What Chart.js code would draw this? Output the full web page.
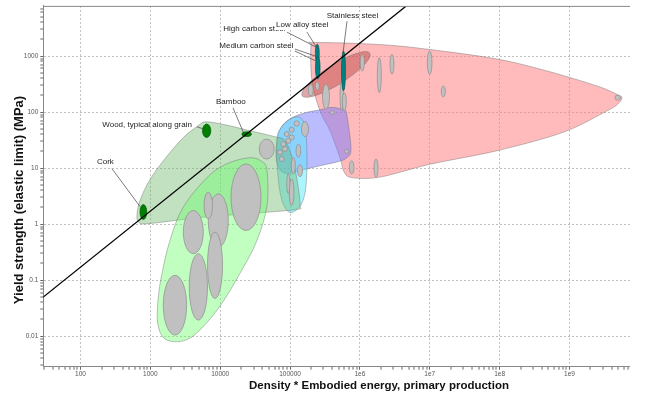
<!DOCTYPE html>
<html><head><meta charset="utf-8">
<script src="https://cdn.jsdelivr.net/npm/chart.js@4.4.0/dist/chart.umd.min.js"></script>
<style>html,body{margin:0;padding:0;background:#fff;}</style>
</head><body>
<canvas id="c" width="656" height="395" style="width:656px;height:395px;display:block"></canvas>
<script>
// ---------- axes ----------
const xRange = [29.34, 7.36e9];
const yRange = [0.002842, 7852];
const xTickValues = [100, 1e3, 1e4, 1e5, 1e6, 1e7, 1e8, 1e9];
const xTickLabels = ['100', '1000', '10000', '100000', '1e6', '1e7', '1e8', '1e9'];
const yTickValues = [0.01, 0.1, 1, 10, 100, 1000];
const yTickLabels = ['0.01', '0.1', '1', '10', '100', '1000'];
const xTitle = 'Density * Embodied energy, primary production';
const yTitle = 'Yield strength (elastic limit) (MPa)';

// ---------- guide line ----------
const guideLineX = [10, 1e7];
const guideLineY = [0.017, 17000];

// ---------- envelopes [x, y] ----------
const metalsEnvelope = [[1.995e5,1507],[2.276e5,1739],[1.94e6,1602],[1.008e7,1305],[9.18e7,884],[4.77e8,541],[2.48e9,292],[4.96e9,202],[5.65e9,179],[4.96e9,140],[3.45e9,105],[8.09e8,43.5],[9.18e7,20.4],[1.008e7,11.7],[1.94e6,6.89],[7.71e5,6.75],[5.92e5,8.63],[5.19e5,15.3],[3.73e5,46.3],[2.68e5,105],[2.06e5,359]];
const steelsEnvelope = [[1.386e6,1126],[1.306e6,842],[9.24e5,539],[5.42e5,331],[3.03e5,224],[1.892e5,185],[1.492e5,195],[1.585e5,261],[2.239e5,408],[3.82e5,661],[6.82e5,980],[1.093e6,1188]];
const compositesEnvelope = [[6.51e4,30.7],[7.42e4,52.4],[9.98e4,75.7],[1.637e5,96.8],[2.68e5,109.4],[3.86e5,121.2],[5.92e5,109.4],[6.54e5,85.6],[7.46e5,22.1],[6.54e5,15.3],[4.86e5,13.0],[2.68e5,11.0],[1.388e5,8.99],[9.04e4,7.95],[6.95e4,9.76],[6.29e4,16.6]];
const ceramicsEnvelope = [[6.51e4,34.7],[7.42e4,52.4],[9.66e4,72.6],[1.257e5,82.1],[1.532e5,69.7],[1.692e5,42.6],[1.748e5,13.5],[1.692e5,4.86],[1.532e5,2.63],[1.3e5,1.895],[9.98e4,1.608],[7.93e4,2.326],[6.95e4,4.86],[6.51e4,13.5]];
const naturalEnvelope = [[688,1.068],[644,1.482],[720,2.75],[1000,6.4],[1700,15.8],[3000,35.5],[4810,56.8],[6260,66.9],[11710,59.2],[26700,46.3],[60900,36.2],[84700,30.7],[110200,13.5],[130000,4.86],[138800,2.14],[121700,1.819],[26700,1.544],[5140,1.31],[989,1.025]];
const foamsEnvelope = [[26700,15.3],[39700,13.0],[46800,8.99],[46800,2.14],[33600,0.511],[19200,0.1321],[9000,0.029],[3690,0.00921],[1731,0.00849],[1287,0.01569],[1287,0.0437],[1469,0.1321],[1911,0.511],[2934,1.974],[6470,6.75],[12520,11.97]];

// ---------- material bubbles [xmin, xmax, ymin, ymax] ----------
const metalBubbles = [[1.013e6,1.156e6,541,1072],[1.774e6,2.024e6,222,933],[2.698e6,3.076e6,472,1072],[9.23e6,1.077e7,472,1227],[1.463e7,1.671e7,186,292],[4.49e9,5.37e9,162,202],[2.915e5,3.672e5,112.6,314],[1.82e5,2.145e5,194,314],[2.30e5,2.62e5,248,344],[5.19e5,5.80e5,105,359],[5.6e5,6.39e5,105,222],[7.05e5,8.23e5,7.85,13.5],[1.592e6,1.816e6,6.83,14.5],[3.77e5,4.30e5,90.3,106.3],[6.06e5,6.91e5,18.3,21.5]];
const foamBubbles = [[1.428e4,3.84e4,0.769,11.83],[6.75e3,1.306e4,0.388,3.46],[5.86e3,7.78e3,1.243,3.69],[2.963e3,5.73e3,0.296,1.746],[6.58e3,1.079e4,0.0469,0.718],[3.60e3,6.58e3,0.01926,0.296],[1.532e3,3.31e3,0.01042,0.1217]];
const ceramicBubbles = [[3.62e4,5.93e4,14.5,32.9],[1.458e5,1.837e5,36.5,67.5],[1.139e5,1.36e5,55.9,69.7],[8.25e4,9.72e4,36.5,44.8],[9.72e4,1.147e5,31.8,39.0],[8.69e4,1.025e5,27.7,34.0],[7.37e4,8.69e4,24.2,29.7],[7.80e4,9.19e4,19.7,24.2],[6.61e4,7.80e4,17.2,21.1],[7.0e4,8.25e4,13.1,16.1],[1.217e5,1.421e5,15.6,26.6],[1.042e5,1.189e5,7.85,15.5],[1.279e5,1.508e5,7.03,11.5],[9.75e4,1.139e5,2.14,6.40],[8.98e4,9.92e4,3.50,7.95],[9.72e4,1.147e5,43.5,53.4]];
const steelBubbles = [[2.30e5,2.62e5,750,1635],[2.31e5,2.69e5,390,1000],[5.45e5,6.22e5,238,1227]];
const naturalBubbles = [[711,887,1.208,2.23],[5.58e3,7.33e3,35.2,60.9],[2.05e4,2.79e4,36.6,44.4]];

// ---------- labels ----------
const labelTexts = ['Cork', 'Wood, typical along grain', 'Bamboo', 'High carbon steel', 'Low alloy steel', 'Medium carbon steel', 'Stainless steel'];
const labelX = [172, 205, 8710, 11080, 62900, 9710, 335000];
const labelY = [13.0, 59.2, 152, 3023, 3562, 1538, 5148];
const labelLeaders = [
  [[282, 9.76, 711, 2.06]],
  [[4650, 54.5, 5670, 50.2]],
  [[15250, 119, 21900, 40.9]],
  [[90400, 2673, 235000, 1446]],
  [[174800, 2673, 243000, 1388]],
  [[117700, 1332, 228000, 1000], [117700, 1227, 227600, 830]],
  [[654000, 4196, 573000, 1131]]
];
const labelBackground = [false, false, false, false, true, false, false];

// ---------- drawing helpers ----------
const FONT = '"Liberation Sans", Arial, sans-serif';

function buildLogTicks(min, max) {
  const out = [];
  for (let e = Math.floor(Math.log10(min)); e <= Math.ceil(Math.log10(max)); e++) {
    for (let m = 1; m <= 9; m++) {
      const v = parseFloat((m * Math.pow(10, e)).toPrecision(6));
      if (v >= min && v <= max) out.push({value: v, major: m === 1});
    }
  }
  return out;
}
function labelFor(v, vals, labs) {
  for (let i = 0; i < vals.length; i++) if (Math.abs(v / vals[i] - 1) < 1e-6) return labs[i];
  return '';
}
function smoothClosed(ctx, pts, k) {
  const n = pts.length;
  ctx.moveTo(pts[0][0], pts[0][1]);
  for (let i = 0; i < n; i++) {
    const p0 = pts[(i - 1 + n) % n], p1 = pts[i], p2 = pts[(i + 1) % n], p3 = pts[(i + 2) % n];
    ctx.bezierCurveTo(p1[0] + (p2[0] - p0[0]) * k, p1[1] + (p2[1] - p0[1]) * k,
                      p2[0] - (p3[0] - p1[0]) * k, p2[1] - (p3[1] - p1[1]) * k, p2[0], p2[1]);
  }
  ctx.closePath();
}

const regions = [
  {pts: metalsEnvelope, fill: 'rgba(255,120,120,0.5)'},
  {pts: steelsEnvelope, fill: 'rgba(185,60,60,0.45)'},
  {pts: compositesEnvelope, fill: 'rgba(120,120,255,0.5)'},
  {pts: ceramicsEnvelope, fill: 'rgba(90,235,255,0.5)'},
  {pts: naturalEnvelope, fill: 'rgba(100,180,100,0.4)'},
  {pts: foamsEnvelope, fill: 'rgba(100,255,100,0.4)'}
];
const bubbleGroups = [
  {list: metalBubbles, fill: '#c0c0c0', stroke: '#8c8c8c'},
  {list: ceramicBubbles, fill: '#c0c0c0', stroke: '#8c8c8c'},
  {list: foamBubbles, fill: '#c0c0c0', stroke: '#8c8c8c'},
  {list: steelBubbles, fill: '#008080', stroke: '#005a5a'},
  {list: naturalBubbles, fill: '#008000', stroke: '#005500'}
];

const ashbyPlugin = {
  id: 'ashby',
  beforeDatasetsDraw(chart) {
    const {ctx, chartArea: a, scales: {x, y}} = chart;
    ctx.save();
    ctx.beginPath(); ctx.rect(a.left, a.top, a.right - a.left, a.bottom - a.top); ctx.clip();
    regions.forEach(r => {
      const pts = r.pts.map(p => [x.getPixelForValue(p[0]), y.getPixelForValue(p[1])]);
      ctx.beginPath(); smoothClosed(ctx, pts, 1 / 6);
      ctx.fillStyle = r.fill; ctx.fill();
      ctx.strokeStyle = 'rgba(110,110,110,0.55)'; ctx.lineWidth = 0.8; ctx.stroke();
    });
    bubbleGroups.forEach(g => {
      g.list.forEach(b => {
        const x1 = x.getPixelForValue(b[0]), x2 = x.getPixelForValue(b[1]);
        const y1 = y.getPixelForValue(b[2]), y2 = y.getPixelForValue(b[3]);
        ctx.beginPath();
        ctx.ellipse((x1 + x2) / 2, (y1 + y2) / 2, Math.abs(x2 - x1) / 2, Math.abs(y2 - y1) / 2, 0, 0, Math.PI * 2);
        ctx.fillStyle = g.fill; ctx.fill();
        ctx.strokeStyle = g.stroke; ctx.lineWidth = 0.7; ctx.stroke();
      });
    });
    ctx.restore();
  },
  afterDatasetsDraw(chart) {
    const {ctx, chartArea: a, scales: {x, y}} = chart;
    ctx.save();
    ctx.font = '8px ' + FONT; ctx.textBaseline = 'middle'; ctx.textAlign = 'left';
    labelTexts.forEach((t, i) => {
      labelLeaders[i].forEach(l => {
        ctx.beginPath();
        ctx.moveTo(x.getPixelForValue(l[0]), y.getPixelForValue(l[1]));
        ctx.lineTo(x.getPixelForValue(l[2]), y.getPixelForValue(l[3]));
        ctx.strokeStyle = '#444'; ctx.lineWidth = 0.7; ctx.stroke();
      });
      const px = x.getPixelForValue(labelX[i]), py = y.getPixelForValue(labelY[i]);
      if (labelBackground[i]) {
        const w = ctx.measureText(t).width;
        ctx.fillStyle = '#fff'; ctx.fillRect(px - 1, py - 5, w + 2, 10);
      }
      ctx.fillStyle = '#222'; ctx.fillText(t, px, py);
    });
    // top frame line
    ctx.beginPath(); ctx.moveTo(a.left, a.top + 0.5); ctx.lineTo(a.right, a.top + 0.5);
    ctx.strokeStyle = '#888'; ctx.lineWidth = 1; ctx.stroke();
    // axis titles
    ctx.fillStyle = '#111'; ctx.textAlign = 'center';
    ctx.font = 'bold 11.5px ' + FONT;
    ctx.fillText(xTitle, 379, 386);
    ctx.translate(19, 200); ctx.rotate(-Math.PI / 2);
    ctx.font = 'bold 13px ' + FONT;
    ctx.fillText(yTitle, 0, 0);
    ctx.restore();
  }
};

function axis(range, vals, labs, isX) {
  return {
    type: 'logarithmic', min: range[0], max: range[1],
    afterFit(s) { if (isX) s.height = 28.3; else s.width = 43.3; },
    afterBuildTicks(s) { s.ticks = buildLogTicks(range[0], range[1]); },
    ticks: {
      autoSkip: false, maxRotation: 0, minRotation: 0, padding: isX ? 1 : 2,
      color: '#555', font: {size: 6.5, family: FONT},
      callback: v => labelFor(v, vals, labs)
    },
    grid: {
      color: c => (c.tick && c.tick.major) ? '#b0b0b0' : 'rgba(0,0,0,0)',
      lineWidth: c => (c.tick && c.tick.major) ? 0.8 : 0,
      tickColor: '#666', tickWidth: 1, tickLength: 3
    },
    border: {display: true, color: '#888', width: 1, dash: [2, 2]}
  };
}

new Chart(document.getElementById('c'), {
  type: 'scatter',
  data: {
    datasets: [{
      data: guideLineX.map((v, i) => ({x: v, y: guideLineY[i]})),
      showLine: true, borderColor: '#000', borderWidth: 1.3, pointRadius: 0, fill: false
    }]
  },
  options: {
    responsive: false, animation: false, devicePixelRatio: 1,
    layout: {padding: {left: 0, right: 26, top: 4.7, bottom: 0}},
    plugins: {legend: {display: false}, tooltip: {enabled: false}},
    scales: {
      x: axis(xRange, xTickValues, xTickLabels, true),
      y: axis(yRange, yTickValues, yTickLabels, false)
    }
  },
  plugins: [ashbyPlugin]
});
</script>
</body></html>
